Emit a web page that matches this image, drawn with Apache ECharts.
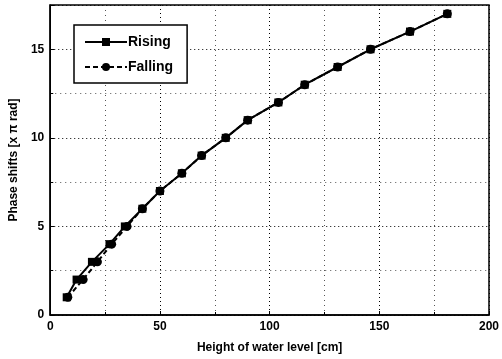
<!DOCTYPE html>
<html><head><meta charset="utf-8">
<script src="https://cdn.jsdelivr.net/npm/echarts@6/dist/echarts.min.js"></script>
<style>html,body{margin:0;padding:0;background:#fff}#c{width:502px;height:359px}</style>
</head><body><div id="c"></div>
<script>
const risingX = [7.5, 12, 19, 27, 34, 42, 50, 60, 69, 80, 90, 104, 116, 131, 146, 164, 181];
const risingY = [1, 2, 3, 4, 5, 6, 7, 8, 9, 10, 11, 12, 13, 14, 15, 16, 17];
const fallingX = [8, 15, 21.5, 28, 35, 42, 50, 60, 69, 80, 90, 104, 116, 131, 146, 164, 181];
const fallingY = [1, 2, 3, 4, 5, 6, 7, 8, 9, 10, 11, 12, 13, 14, 15, 16, 17];
const xTicks = [0, 50, 100, 150, 200];
const yTicks = [0, 5, 10, 15];

const font = 'Liberation Sans, Arial, sans-serif';
const chart = echarts.init(document.getElementById('c'));
const pair = (xs, ys) => xs.map((x, i) => [x, ys[i]]);
chart.setOption({
  animation: false,
  grid: {left: 49, right: 10, top: 5, bottom: 44, show: true, borderColor: '#000', borderWidth: 1.5, backgroundColor: 'transparent'},
  legend: {
    orient: 'vertical', left: 74, top: 25, padding: [10, 14, 9, 10], itemGap: 11,
    backgroundColor: '#fff', borderColor: '#000', borderWidth: 1.5,
    itemWidth: 42, itemHeight: 10,
    textStyle: {fontFamily: font, fontSize: 14, fontWeight: 'bold', color: '#000', padding: [0, 0, 0, -4]},
    data: ['Rising', 'Falling']
  },
  xAxis: {
    type: 'value', min: 0, max: 200, interval: 50,
    name: 'Height of water level [cm]', nameLocation: 'middle', nameGap: 27,
    nameTextStyle: {fontFamily: font, fontSize: 12, fontWeight: 'bold', color: '#000'},
    axisLine: {show: true, lineStyle: {color: '#000', width: 1.5}},
    axisTick: {show: true, inside: true, length: 4, lineStyle: {color: '#000'}},
    minorTick: {show: true, splitNumber: 2, length: 3, lineStyle: {color: '#000'}},
    axisLabel: {fontFamily: font, fontSize: 12, fontWeight: 'bold', color: '#000', margin: 6,
      formatter: v => xTicks.includes(v) ? String(v) : ''},
    splitLine: {show: true, lineStyle: {color: '#000', type: [1, 3], width: 1}},
    minorSplitLine: {show: true, lineStyle: {color: '#555', type: [1, 4], width: 1}}
  },
  yAxis: {
    type: 'value', min: 0, max: 17.5, interval: 5,
    name: 'Phase shifts [x \u03c0 rad]', nameLocation: 'middle', nameGap: 28,
    nameTextStyle: {fontFamily: font, fontSize: 12, fontWeight: 'bold', color: '#000'},
    axisLine: {show: true, lineStyle: {color: '#000', width: 1.5}},
    axisTick: {show: true, inside: true, length: 4, lineStyle: {color: '#000'}},
    minorTick: {show: true, splitNumber: 2, length: 3, lineStyle: {color: '#000'}},
    axisLabel: {fontFamily: font, fontSize: 12, fontWeight: 'bold', color: '#000', margin: 6,
      formatter: v => yTicks.includes(v) ? String(v) : ''},
    splitLine: {show: true, lineStyle: {color: '#000', type: [1, 3], width: 1}},
    minorSplitLine: {show: true, lineStyle: {color: '#555', type: [1, 4], width: 1}}
  },
  series: [
    {name: 'Rising', type: 'line', data: pair(risingX, risingY), symbol: 'rect', symbolSize: 8,
      lineStyle: {color: '#000', width: 2}, itemStyle: {color: '#000'}},
    {name: 'Falling', type: 'line', data: pair(fallingX, fallingY), symbol: 'circle', symbolSize: 9,
      lineStyle: {color: '#000', width: 2, type: [5, 3]}, itemStyle: {color: '#000'}}
  ]
});
</script></body></html>
